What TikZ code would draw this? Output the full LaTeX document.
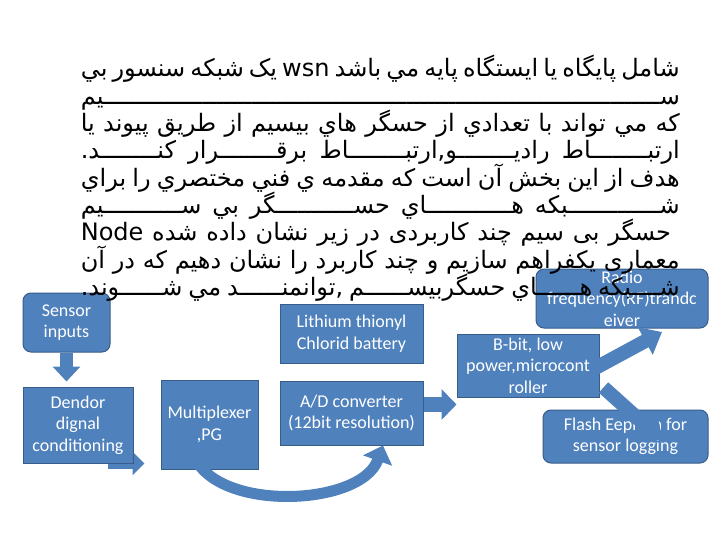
\documentclass[tikz,border=0pt]{standalone}
\usepackage{fontspec}
\usepackage{tikz}
\usetikzlibrary{arrows.meta,backgrounds}
\TeXXeTstate=1
\newfontfamily\arabicfont[Script=Arabic]{DejaVu Sans}
\newfontfamily\boxfont{Carlito}
\definecolor{boxblue}{HTML}{4F81BD}
\definecolor{boxedge}{HTML}{385D8A}
\newcommand{\faline}[1]{\makebox[599pt][s]{\arabicfont\beginR #1\endR}}

\begin{document}
\begin{tikzpicture}[x = 1pt, y = -1pt]
\tikzstyle{BoxStyle}=[
shape = rectangle,
fill = boxblue,
draw = boxedge,
line width = 1pt,
text = white,
align = center,
inner sep = 0pt,
font = \boxfont\fontsize{18}{21.5}\selectfont]
\tikzstyle{RoundBoxStyle}=[BoxStyle, rounded corners = 8pt]
\tikzstyle{LineStyle}=[anchor = base east, inner sep = 0pt, font = \fontsize{24}{27}\selectfont]
\tikzstyle{BlockArrow}=[draw = boxblue, line width = 13pt, -{Triangle[width = 27pt, length = 15pt]}]
\useasboundingbox (0, 0) rectangle (720, 540);
\node[RoundBoxStyle, minimum width = 87pt, minimum height = 59pt] (sens) at (66.5, 322.5) {Sensor\\inputs};
\node[BoxStyle, minimum width = 110pt, minimum height = 76pt] (dend) at (78, 425) {Dendor\\dignal\\conditioning};
\node[BoxStyle, minimum width = 97pt, minimum height = 89pt] (mux) at (209.5, 424.5) {Multiplexer\\,PG};
\node[BoxStyle, minimum width = 143pt, minimum height = 59pt] (lith) at (351.5, 333.5) {Lithium thionyl\\Chlorid battery};
\node[BoxStyle, minimum width = 143pt, minimum height = 64pt] (adc) at (351.5, 413) {A/D converter\\(12bit resolution)};
\node[BoxStyle, minimum width = 142pt, minimum height = 63pt] (mcu) at (528, 365.5) {B-bit, low\\power,microcont\\roller};
\node[RoundBoxStyle, minimum width = 172pt, minimum height = 59pt] (rf) at (622, 298.5) {Radio\\frequency(RF)trandc\\eiver};
\node[RoundBoxStyle, minimum width = 165pt, minimum height = 53pt] (flash) at (625.5, 436.5) {Flash Eeprom for\\sensor logging};
\coordinate (muxin) at (dend.south east -| mux.west);
\coordinate (adcout) at ([yshift = 8.5pt]adc.east);
\coordinate (rftip) at (662, 332);
\coordinate (flashtip) at (663, 441);
\begin{scope}[on background layer]
\fill[white] (0, 0) rectangle (720, 540);
\draw[BlockArrow, line width = 11pt, -{Triangle[width = 23pt, length = 12pt]}] ([xshift = -26pt]dend.south east) -- ([xshift = -16pt]muxin);
\end{scope}
\draw[BlockArrow] (sens.south) -- ([yshift = 5pt]dend.north -| sens.south);
\draw[BlockArrow, line width = 15pt, -{Triangle[width = 30pt, length = 15pt]}] (adcout) -- (adcout -| mcu.west);
\draw[BlockArrow, line width = 14pt, -{Triangle[width = 30pt, length = 19pt]}] ([xshift = -5pt, yshift = -3pt]mcu.east) -- (rftip);
\draw[BlockArrow, line width = 14pt, -{Triangle[width = 30pt, length = 22pt]}] ([xshift = 4pt, yshift = -22pt]mcu.east) -- (flashtip);
\draw[BlockArrow, line width = 11pt, -{Triangle[width = 30pt, length = 16pt]}] ([xshift = -18pt, yshift = 24pt]mux.south) .. controls +(8, 67) and +(-23, 64) .. ([xshift = 31.5pt]adc.south);
% paragraph above the diagram
\node[LineStyle] (l1) at (680, 77) {\faline{شامل پايگاه يا ايستگاه پايه مي باشد \beginL wsn\endL{} يک شبکه سنسور بي}};
\node[LineStyle] (l2) at (680, 104.3) {\makebox[599pt][s]{\arabicfont\beginR سـ\xleaders\hbox{ـ}\hfill ـيم\endR}};
\node[LineStyle] (l3) at (680, 131.6) {\faline{که مي تواند با تعدادي از حسگر هاي بيسيم از طريق پيوند يا}};
\node[LineStyle] (l4) at (680, 158.9) {\faline{ارتبــــــــاط راديــــــــو,ارتبــــــــاط برقــــــــرار کنــــــــد.}};
\node[LineStyle] (l5) at (680, 186.2) {\faline{هدف از اين بخش آن است که مقدمه ي فني مختصري را براي}};
\node[LineStyle] (l6) at (680, 213.5) {\faline{شـــــــــــــبکه هــــــــــــاي حســـــــــــگر بي ســـــــــــيم}};
\node[LineStyle] (l7) at (680, 240.8) {\faline{\ حسگر بی سیم چند کاربردی در زیر نشان داده شده \beginL Node\endL}};
\node[LineStyle] (l8) at (680, 268.1) {\faline{معماری یکفراهم سازیم و چند کاربرد را نشان دهیم که در آن}};
\node[LineStyle] (l9) at (680, 295.4) {\faline{شــــبکه هــــــاي حسگربيســــــم ,توانمنــــــد مي شــــــوند.}};
\end{tikzpicture}
\end{document}
